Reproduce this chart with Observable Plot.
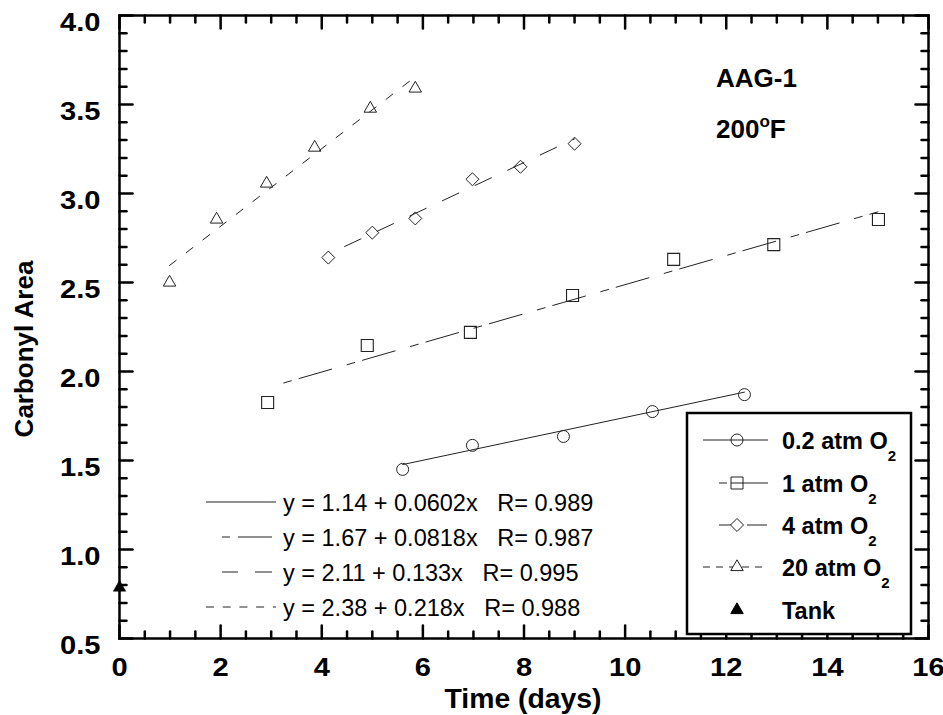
<!DOCTYPE html>
<html><head><meta charset="utf-8">
<script src="https://cdn.jsdelivr.net/npm/d3@7"></script>
<script src="https://cdn.jsdelivr.net/npm/@observablehq/plot@0.6"></script>
<style>
body{margin:0;background:#fff}
#chart svg{font-family:"Liberation Sans",Arial,sans-serif;overflow:visible}
</style>
</head><body><div id="chart"></div>
<script>
// ---- data ----
const time02 = [5.6, 6.98, 8.78, 10.54, 12.36];
const area02 = [1.45, 1.585, 1.635, 1.775, 1.87];
const time1 = [2.93, 4.9, 6.94, 8.96, 10.96, 12.94, 15.01];
const area1 = [1.826, 2.146, 2.22, 2.427, 2.63, 2.713, 2.854];
const time4 = [4.13, 5.0, 5.85, 6.98, 7.93, 9.0];
const area4 = [2.64, 2.78, 2.86, 3.08, 3.15, 3.28];
const time20 = [0.99, 1.92, 2.91, 3.86, 4.96, 5.85];
const area20 = [2.50, 2.854, 3.056, 3.258, 3.477, 3.59];
const tankTime = [0];
const tankArea = [0.786];
const seriesLabels = ["0.2 atm O", "1 atm O", "4 atm O", "20 atm O", "Tank"];
const fitIntercepts = [1.14, 1.67, 2.11, 2.38];
const fitSlopes = [0.0602, 0.0818, 0.133, 0.218];
const fitR = ["0.989", "0.987", "0.995", "0.988"];
const fitStart = [5.6, 3.0, 4.13, 0.99];
const fitEnd = [12.36, 15.0, 9.0, 5.85];
const xTickLabels = [0, 2, 4, 6, 8, 10, 12, 14, 16];
const yTickLabels = [0.5, 1.0, 1.5, 2.0, 2.5, 3.0, 3.5, 4.0];
const xDomain = [0, 16], yDomain = [0.5, 4];

const xMinor = d3.range(0, 16.001, 0.5).filter(v => !xTickLabels.includes(v));
const yMinor = d3.range(5, 41).map(v => v / 10).filter(v => !yTickLabels.some(t => Math.abs(t - v) < 1e-9));

const pts = (xs, ys) => xs.map((x, i) => ({x, y: ys[i]}));
const fitLine = i => [fitStart[i], fitEnd[i]].map(x => ({x, y: fitIntercepts[i] + fitSlopes[i] * x}));

const lineColor = "#222";
const dashes = [null, "34,16,8,8", "18,18", "8.4,12.6"];
const dashOffsets = [0, 37, 18, 0];
const tickShape = {draw(ctx, l) { ctx.moveTo(0, 0); ctx.lineTo(0, -l); }};
const ticks = (vals, horiz, at, rot, len) => Plot.vector(vals, {
  x: horiz ? (d => d) : (() => at), y: horiz ? (() => at) : (d => d),
  length: len, rotate: rot, anchor: "start", shape: tickShape, stroke: "black", strokeWidth: 2.5
});

const marks = [];
for (let i = 0; i < 4; i++) {
  marks.push(Plot.line(fitLine(i), {x: "x", y: "y", stroke: lineColor, strokeWidth: 1,
    strokeDasharray: dashes[i] || undefined, strokeDashoffset: dashOffsets[i]}));
}
marks.push(
  Plot.dot(pts(time02, area02), {x: "x", y: "y", symbol: "circle", r: 6, stroke: lineColor, fill: "none", strokeWidth: 1}),
  Plot.dot(pts(time1, area1), {x: "x", y: "y", symbol: "square", r: 6.77, stroke: lineColor, fill: "none", strokeWidth: 1.1}),
  Plot.dot(pts(time4, area4), {x: "x", y: "y", symbol: "diamond2", r: 5.86, stroke: lineColor, fill: "none", strokeWidth: 1}),
  Plot.dot(pts(time20, area20), {x: "x", y: "y", symbol: "triangle", r: 4.64, stroke: lineColor, fill: "none", strokeWidth: 1}),
  Plot.frame({stroke: "black", strokeWidth: 2.5}),
  ticks(xTickLabels, true, yDomain[0], 0, 13),
  ticks(xMinor, true, yDomain[0], 0, 7),
  ticks(xTickLabels, true, yDomain[1], 180, 13),
  ticks(xMinor, true, yDomain[1], 180, 7),
  ticks(yTickLabels, false, xDomain[0], 90, 13),
  ticks(yMinor, false, xDomain[0], 90, 7),
  ticks(yTickLabels, false, xDomain[1], -90, 13),
  ticks(yMinor, false, xDomain[1], -90, 7),
  Plot.dot(pts(tankTime, tankArea), {x: "x", y: "y", symbol: "triangle", r: 4.64, fill: "black", stroke: "black", strokeWidth: 0.5}),
  Plot.axisX({ticks: xTickLabels, tickSize: 0, tickPadding: 19, tickFormat: d => String(d), label: null, fontSize: 26, fontWeight: "bold"}),
  Plot.axisY({ticks: yTickLabels, tickSize: 0, tickPadding: 19, tickFormat: d3.format(".1f"), label: null, dy: 7, fontSize: 26, fontWeight: "bold"})
);

const plot = Plot.plot({
  width: 943, height: 715,
  marginLeft: 119, marginRight: 15, marginTop: 15, marginBottom: 77,
  x: {domain: xDomain}, y: {domain: yDomain},
  style: {background: "white", color: "black", fontFamily: "Liberation Sans, Arial, sans-serif"},
  marks
});
document.getElementById("chart").appendChild(plot);

const svg = d3.select(plot);
// widen the tick labels slightly (the reference face is broader than Arial)
svg.selectAll('g[aria-label$="tick label"] text').each(function () {
  const el = d3.select(this);
  const x = +el.attr("x") || 0, y = +el.attr("y") || 0;
  const tr = el.attr("transform") || "";
  el.attr("transform", `${tr} translate(${x},${y}) scale(1.12,1) translate(${-x},${-y})`);
});

// ---- annotations, equations and legend ----
const g = svg.append("g").attr("fill", "black");
const txt = (x, y, s, size, weight, anchor) => g.append("text").attr("x", x).attr("y", y)
  .attr("font-size", size).attr("font-weight", weight || "normal").attr("text-anchor", anchor || "start")
  .attr("xml:space", "preserve").style("white-space", "pre").text(s);

txt(523, 708, "Time (days)", 27, "bold", "middle").attr("transform", "translate(523,0) scale(1.05,1) translate(-523,0)");
txt(0, 0, "Carbonyl Area", 26, "bold", "middle").attr("transform", "translate(33,349) rotate(-90)");
txt(716, 87, "AAG-1", 26, "bold");
const deg = txt(716, 138, "200", 26, "bold");
deg.append("tspan").attr("dy", -11).attr("font-size", 17).text("o");
deg.append("tspan").attr("dy", 11).text("F");

// equations
const eqY = [502, 537, 572, 607];
const eqLines = [
  [[206, 276, null]],
  [[222, 230, null], [238, 272, null]],
  [[222, 238, null], [255, 272, null]],
  [[206, 276, "8,8.7"]]
];
for (let i = 0; i < 4; i++) {
  for (const [a, b, da] of eqLines[i]) {
    g.append("line").attr("x1", a).attr("x2", b).attr("y1", eqY[i]).attr("y2", eqY[i])
      .attr("stroke", lineColor).attr("stroke-width", 1).attr("stroke-dasharray", da);
  }
  const s = `y = ${fitIntercepts[i].toFixed(2)} + ${fitSlopes[i]}x   R= ${fitR[i]}`;
  txt(283, eqY[i] + 8.5, s, 23.5, "normal");
}

// legend box
g.append("rect").attr("x", 687).attr("y", 413).attr("width", 224).attr("height", 221)
  .attr("fill", "white").attr("stroke", "black").attr("stroke-width", 2.5);
const legY = [440, 483, 525, 567, 610];
const legSegs = [
  [[703, 768, null]],
  [[719, 727, null], [731, 768, null]],
  [[719, 732, null], [747, 767, null]],
  [[703, 768, "7,6"]],
  []
];
const legSym = [
  [d3.symbolCircle, Math.PI * 36, "none"],
  [d3.symbolSquare, Math.PI * 6.77 * 6.77, "none"],
  [d3.symbolDiamond2, Math.PI * 5.86 * 5.86, "white"],
  [d3.symbolTriangle, Math.PI * 4.64 * 4.64, "white"],
  [d3.symbolTriangle, Math.PI * 4.64 * 4.64, "black"]
];
for (let i = 0; i < 5; i++) {
  for (const [a, b, da] of legSegs[i]) {
    g.append("line").attr("x1", a).attr("x2", b).attr("y1", legY[i]).attr("y2", legY[i])
      .attr("stroke", lineColor).attr("stroke-width", 1).attr("stroke-dasharray", da);
  }
  const [sym, size, fill] = legSym[i];
  g.append("path").attr("d", d3.symbol(sym, size)()).attr("transform", `translate(737,${legY[i]})`)
    .attr("fill", fill).attr("stroke", i === 4 ? "black" : lineColor).attr("stroke-width", 1);
  const t = txt(782, legY[i] + 9, seriesLabels[i], 23.5, "bold");
  if (i < 4) t.append("tspan").attr("dy", 12).attr("font-size", 15).text("2");
}
</script>
</body></html>
